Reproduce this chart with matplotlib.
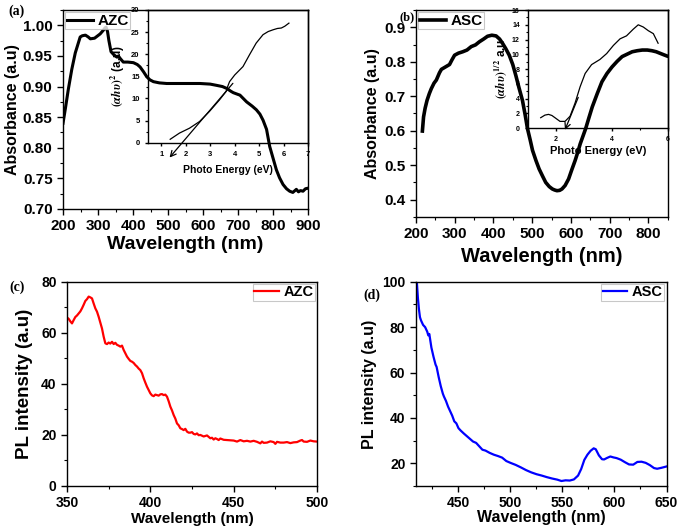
import numpy as np
import matplotlib
matplotlib.use('Agg')
import matplotlib.pyplot as plt
from matplotlib.ticker import MultipleLocator

plt.rcParams['font.family'] = ['Liberation Sans', 'DejaVu Sans']
plt.rcParams['font.weight'] = 'bold'
plt.rcParams['axes.labelweight'] = 'bold'
plt.rcParams['axes.linewidth'] = 1.0
plt.rcParams['mathtext.fontset'] = 'stix'

# ---------------- data ----------------
# (a) AZC absorbance
wl_a = [200, 207, 215, 225, 235, 249, 255, 264, 272, 278, 290, 306, 315, 320, 323,
        327, 331, 337, 345, 354, 358, 363, 372, 385, 401, 412, 420, 430, 439, 448,
        458, 475, 496, 550, 591, 620, 638, 655, 667, 680, 686, 700, 705, 724, 740,
        752, 762, 771, 781, 790, 800, 809, 818, 828, 838, 847, 856, 866, 872, 878,
        885, 892, 900]
abs_a = [0.840, 0.865, 0.895, 0.928, 0.955, 0.981, 0.983, 0.984, 0.981, 0.978,
         0.979, 0.986, 0.992, 0.996, 0.997, 0.990, 0.975, 0.957, 0.952, 0.948,
         0.950, 0.946, 0.940, 0.940, 0.939, 0.936, 0.932, 0.924, 0.916, 0.911,
         0.908, 0.906, 0.905, 0.905, 0.905, 0.904, 0.902, 0.900, 0.897, 0.892,
         0.890, 0.887, 0.886, 0.875, 0.868, 0.862, 0.855, 0.845, 0.830, 0.802,
         0.782, 0.764, 0.751, 0.740, 0.733, 0.729, 0.727, 0.732, 0.728, 0.730,
         0.729, 0.733, 0.734]
# (a) inset (alpha h nu)^2
ev_a = [1.36, 1.74, 2.15, 2.56, 2.97, 3.38, 3.65, 3.72, 3.79, 4.0, 4.34, 4.61,
        4.88, 5.16, 5.37, 5.57, 5.75, 5.91, 6.05, 6.22]
ahv_a = [0.8, 2.2, 3.3, 4.8, 7.1, 9.7, 11.6, 12.8, 13.8, 15.3, 17.2, 19.9,
         22.5, 24.4, 25.1, 25.5, 25.8, 25.9, 26.3, 27.0]
tang_a = [(4.0, 13.9), (1.26, -3.8)]

# (b) ASC absorbance
wl_b = [217, 220, 224, 229, 235, 240, 247, 253, 261, 266, 275, 287, 293, 300, 310,
        321, 332, 343, 354, 364, 375, 385, 396, 407, 416, 424, 432, 441, 450, 458,
        466, 475, 482, 488, 495, 501, 510, 518, 527, 535, 544, 552, 558, 564, 571,
        577, 585, 594, 602, 611, 618, 624, 631, 638, 646, 655, 668, 680, 693, 706,
        719, 732, 745, 758, 771, 784, 797, 809, 820, 831, 840, 847]
abs_b = [0.599, 0.640, 0.665, 0.688, 0.708, 0.722, 0.738, 0.747, 0.768, 0.778,
         0.784, 0.792, 0.805, 0.819, 0.825, 0.829, 0.834, 0.844, 0.849, 0.858,
         0.866, 0.874, 0.877, 0.875, 0.866, 0.853, 0.838, 0.819, 0.792, 0.760,
         0.725, 0.688, 0.646, 0.606, 0.573, 0.543, 0.513, 0.489, 0.468, 0.450,
         0.438, 0.431, 0.428, 0.426, 0.427, 0.431, 0.441, 0.460, 0.486, 0.514,
         0.539, 0.562, 0.584, 0.606, 0.636, 0.669, 0.708, 0.742, 0.766, 0.785,
         0.801, 0.815, 0.822, 0.829, 0.832, 0.834, 0.834, 0.832, 0.829, 0.824,
         0.820, 0.817]
# (b) inset (alpha h nu)^1/2
ev_b = [1.45, 1.6, 1.73, 1.85, 1.96, 2.14, 2.32, 2.5, 2.68, 2.86, 3.04, 3.27,
        3.57, 3.81, 4.05, 4.29, 4.52, 4.76, 4.94, 5.12, 5.3, 5.48, 5.65]
ahv_b = [1.4, 1.75, 1.85, 1.7, 1.4, 0.9, 0.9, 1.6, 3.4, 5.6, 7.4, 8.6,
         9.3, 10.1, 11.2, 12.1, 12.5, 13.4, 14.0, 13.7, 13.2, 12.8, 11.5]
tang_b = [(2.83, 4.5), (2.28, -0.6)]

# (c) AZC PL
wl_c = [350, 351, 352, 353, 354, 355, 356, 357, 358, 359, 360, 361, 362, 363,
        364, 365, 366, 367, 368, 369, 370, 371, 372, 373, 374, 375, 376, 377,
        378, 379, 380, 381, 382, 383, 384, 385, 386, 387, 388, 389, 390, 391,
        392, 393, 394, 395, 396, 397, 398, 399, 400, 401, 402, 403, 404, 405,
        406, 407, 408, 409, 410, 411, 412, 413, 414, 415, 416, 417, 418, 419,
        420, 421, 422, 423, 424, 425, 426, 427, 428, 429, 430, 432, 434, 436,
        437, 438, 439, 440, 441, 442, 444, 446, 448, 450, 452, 454, 456, 458,
        460, 462, 464, 466, 467, 468, 470, 472, 474, 475, 476, 478, 480, 482,
        484, 486, 488, 490, 491, 492, 494, 496, 498, 500]
pl_c = [66.0, 65.5, 64.5, 63.7, 65.0, 66.2, 66.8, 67.6, 68.4, 69.6, 71.0, 72.5,
        73.2, 74.2, 73.9, 73.5, 71.5, 69.6, 68.3, 66.3, 64.0, 61.7, 58.5, 55.9,
        55.6, 56.2, 55.8, 56.5, 55.6, 56.1, 55.3, 55.0, 54.6, 55.0, 53.3, 52.0,
        50.7, 49.8, 49.0, 48.7, 48.2, 47.4, 46.8, 46.0, 45.4, 44.2, 42.2, 40.5,
        38.9, 37.6, 36.3, 35.5, 35.2, 35.8, 35.6, 35.4, 35.9, 36.0, 35.6, 35.8,
        35.0, 33.2, 31.1, 29.6, 27.8, 26.4, 24.5, 23.8, 22.6, 22.3, 21.9, 22.4,
        21.3, 20.9, 20.9, 21.1, 20.4, 20.2, 20.6, 19.9, 20.0, 19.4, 19.8, 18.7,
        18.9, 18.2, 18.7, 18.4, 18.0, 18.6, 18.1, 18.0, 17.9, 17.8, 17.4, 18.0,
        17.5, 17.7, 17.4, 17.7, 17.3, 16.7, 17.4, 16.9, 17.0, 17.5, 17.2, 16.5,
        17.3, 17.0, 17.0, 17.2, 16.8, 17.1, 17.2, 17.8, 18.0, 17.4, 17.3, 17.8,
        17.5, 17.4]

# (d) ASC PL
wl_d = [410, 411, 412, 413, 414, 416, 418, 420, 421, 422, 423, 424, 426, 428,
        429, 431, 433, 435, 436, 438, 440, 442, 444, 446, 448, 450, 452, 455,
        458, 461, 464, 467, 470, 473, 476, 480, 484, 488, 492, 496, 500, 505,
        510, 515, 520, 525, 530, 535, 540, 545, 549, 553, 557, 561, 565, 568,
        571, 574, 577, 580, 582, 585, 588, 590, 593, 596, 599, 602, 606, 610,
        614, 618, 622, 626, 630, 634, 638, 641, 645, 650]
pl_d = [100, 93, 88, 84.4, 83, 81, 80, 78, 76.4, 77, 74, 71, 67, 63.5,
        62.5, 58, 54, 50.7, 49.5, 47.5, 45, 43, 41, 38.5, 37.6, 35.5, 34.5, 33.2,
        32, 30.8, 29.6, 29, 27.5, 26, 25.6, 24.6, 23.8, 23.2, 22.5, 21, 20.2, 19.3,
        18.2, 17, 16, 15.2, 14.6, 13.9, 13.3, 12.8, 12.2, 12.5, 12.4, 12.9, 14.6, 17.5,
        21.5, 23.8, 25.5, 26.6, 26.2, 23.5, 21.8, 21.7, 22.4, 23.0, 22.6, 22.3, 21.6, 20.5,
        19.5, 19.4, 20.6, 20.7, 20.2, 19.2, 17.9, 17.6, 18.0, 18.6]


def style_ticks(ax, size):
    ax.tick_params(which='both', direction='out', top=False, right=False,
                   labelsize=size)
    ax.tick_params(which='major', length=4, width=1)
    ax.tick_params(which='minor', length=2, width=0.8)
    for lab in ax.get_xticklabels() + ax.get_yticklabels():
        lab.set_fontweight('bold')


def legend(ax, loc, size):
    lg = ax.legend(loc=loc, fontsize=size, frameon=True, fancybox=False,
                   handlelength=1.7, handletextpad=0.3, borderpad=0.1,
                   borderaxespad=0.15)
    lg.get_frame().set_edgecolor('#bbbbbb')
    lg.get_frame().set_linewidth(0.8)


fig = plt.figure(figsize=(6.85, 5.29), dpi=100)

# ---------- (a) ----------
ax_a = fig.add_axes([0.092, 0.605, 0.358, 0.376])
ax_a.plot(wl_a, abs_a, color='black', lw=2.2, label='AZC')
ax_a.set_xlim(200, 900)
ax_a.set_ylim(0.70, 1.025)
ax_a.xaxis.set_major_locator(MultipleLocator(100))
ax_a.xaxis.set_minor_locator(MultipleLocator(50))
ax_a.yaxis.set_major_locator(MultipleLocator(0.05))
ax_a.yaxis.set_minor_locator(MultipleLocator(0.025))
ax_a.yaxis.set_major_formatter(matplotlib.ticker.FormatStrFormatter('%.2f'))
ax_a.set_xlabel('Wavelength (nm)', fontsize=14, labelpad=2)
ax_a.set_ylabel('Absorbance (a.u)', fontsize=11.5, labelpad=2)
style_ticks(ax_a, 11)
legend(ax_a, 'upper left', 11)

in_a = fig.add_axes([0.216, 0.730, 0.2336, 0.2514], facecolor='none')
in_a.plot(ev_a, ahv_a, color='black', lw=0.9)
in_a.annotate('', xy=tang_a[1], xytext=tang_a[0], annotation_clip=False,
              arrowprops=dict(arrowstyle='->', color='black', lw=0.9))
in_a.set_xlim(0.45, 7)
in_a.set_ylim(0, 30)
in_a.xaxis.set_major_locator(MultipleLocator(1))
in_a.yaxis.set_major_locator(MultipleLocator(5))
in_a.yaxis.set_minor_locator(MultipleLocator(2.5))
in_a.set_xlabel('Photo Energy (eV)', fontsize=7.5, labelpad=5)
in_a.set_ylabel(r'$(\alpha h\upsilon)^{2}$ (a.u)', fontsize=8.5,
                fontweight='bold', labelpad=3)
style_ticks(in_a, 5.5)
in_a.tick_params(which='major', length=2.5)
in_a.tick_params(which='minor', length=1.5)

# ---------- (b) ----------
ax_b = fig.add_axes([0.607, 0.590, 0.368, 0.391])
ax_b.plot(wl_b, abs_b, color='black', lw=2.6, label='ASC')
ax_b.set_xlim(200, 850)
ax_b.set_ylim(0.35, 0.95)
ax_b.xaxis.set_major_locator(MultipleLocator(100))
ax_b.xaxis.set_minor_locator(MultipleLocator(50))
ax_b.yaxis.set_major_locator(MultipleLocator(0.1))
ax_b.yaxis.set_minor_locator(MultipleLocator(0.05))
ax_b.set_xlabel('Wavelength (nm)', fontsize=14.5, labelpad=4)
ax_b.set_ylabel('Absorbance (a.u)', fontsize=11.5, labelpad=3)
style_ticks(ax_b, 11)
legend(ax_b, 'upper left', 11)

in_b = fig.add_axes([0.771, 0.758, 0.204, 0.223], facecolor='none')
in_b.plot(ev_b, ahv_b, color='black', lw=0.9)
in_b.annotate('', xy=tang_b[1], xytext=tang_b[0], annotation_clip=False,
              arrowprops=dict(arrowstyle='->', color='black', lw=0.9))
in_b.set_xlim(1, 6)
in_b.set_ylim(0, 16)
in_b.xaxis.set_major_locator(MultipleLocator(2))
in_b.xaxis.set_minor_locator(MultipleLocator(1))
in_b.yaxis.set_major_locator(MultipleLocator(2))
in_b.yaxis.set_minor_locator(MultipleLocator(1))
in_b.set_xlabel('Photo Energy (eV)', fontsize=8, labelpad=2)
in_b.set_ylabel(r'$(\alpha h\upsilon)^{1/2}$ a.u', fontsize=8.5,
                fontweight='bold', labelpad=2)
style_ticks(in_b, 5)
in_b.tick_params(which='major', length=2.5)
in_b.tick_params(which='minor', length=1.5)

# ---------- (c) ----------
ax_c = fig.add_axes([0.0978, 0.0813, 0.365, 0.386])
ax_c.plot(wl_c, pl_c, color='red', lw=1.6, label='AZC')
ax_c.set_xlim(350, 500)
ax_c.set_ylim(0, 80)
ax_c.xaxis.set_major_locator(MultipleLocator(50))
ax_c.xaxis.set_minor_locator(MultipleLocator(25))
ax_c.yaxis.set_major_locator(MultipleLocator(20))
ax_c.yaxis.set_minor_locator(MultipleLocator(10))
ax_c.set_xlabel('Wavelength (nm)', fontsize=11, labelpad=1)
ax_c.set_ylabel('PL intensity (a.u)', fontsize=13.5, labelpad=6)
style_ticks(ax_c, 10)
legend(ax_c, 'upper right', 10.5)

# ---------- (d) ----------
ax_d = fig.add_axes([0.607, 0.0813, 0.366, 0.386])
ax_d.plot(wl_d, pl_d, color='blue', lw=1.6, label='ASC')
ax_d.set_xlim(409, 650)
ax_d.set_ylim(10, 100)
ax_d.xaxis.set_major_locator(MultipleLocator(50))
ax_d.xaxis.set_minor_locator(MultipleLocator(25))
ax_d.yaxis.set_major_locator(MultipleLocator(20))
ax_d.yaxis.set_minor_locator(MultipleLocator(10))
ax_d.set_xlabel('Wavelength (nm)', fontsize=11.5, labelpad=0)
ax_d.set_ylabel('PL intensity (a.u)', fontsize=11.5, labelpad=4)
style_ticks(ax_d, 10)
legend(ax_d, 'upper right', 10.5)

# panel letters
for x, y, s, fs in [(0.012, 0.992, '(a)', 10), (0.583, 0.978, '(b)', 9),
                    (0.014, 0.470, '(c)', 10), (0.530, 0.455, '(d)', 10)]:
    fig.text(x, y, s, fontsize=fs, fontweight='bold', va='top',
             family='Liberation Serif')

fig.savefig('out.png', dpi=100)
